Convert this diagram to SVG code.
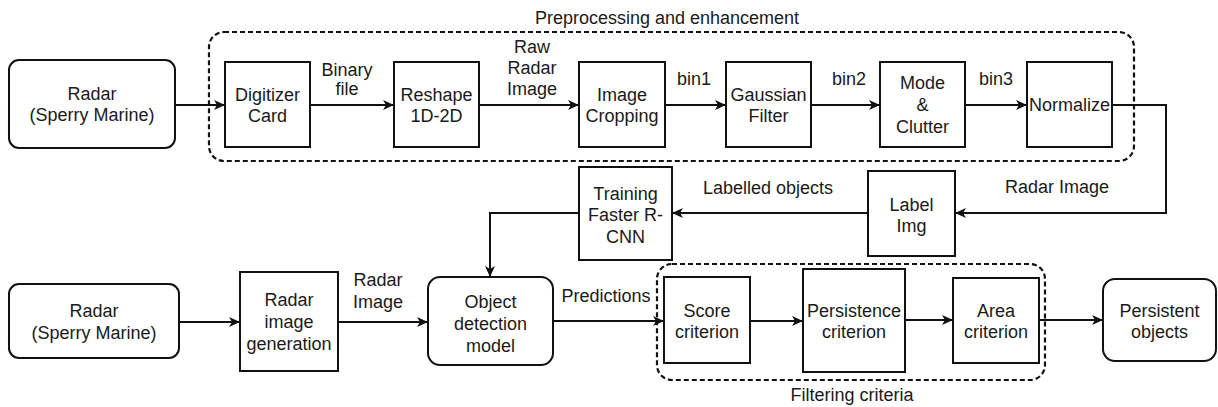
<svg xmlns="http://www.w3.org/2000/svg" width="1218" height="407" viewBox="0 0 1218 407">
<style>
  .box{fill:#fff;stroke:#111;stroke-width:2}
  .grp{fill:none;stroke:#111;stroke-width:2.2;stroke-dasharray:5 3}
  .ln{fill:none;stroke:#111;stroke-width:2}
  text{font-family:"Liberation Sans",Arial,sans-serif;font-size:18px;fill:#1a1a1a;text-anchor:middle}
</style>
<defs>
  <marker id="arr" markerUnits="userSpaceOnUse" markerWidth="12" markerHeight="12" viewBox="0 0 12 12" refX="11" refY="6" orient="auto">
    <path d="M0,1 L11,6 L0,11 L3,6 Z" fill="#111"/>
  </marker>
</defs>
<rect fill="#fff" x="0" y="0" width="1218" height="407"/>

<g id="group-preprocessing">
  <rect class="grp" x="209" y="32" width="925" height="129" rx="15"/>
  <text x="667" y="24">Preprocessing and enhancement</text>
</g>
<g id="group-filtering">
  <rect class="grp" x="657" y="264" width="388" height="116" rx="15"/>
  <text x="852" y="401">Filtering criteria</text>
</g>

<g id="connectors">
  <line class="ln" x1="175" y1="105" x2="225" y2="105" marker-end="url(#arr)"/>
  <line class="ln" x1="310" y1="105" x2="394" y2="105" marker-end="url(#arr)"/>
  <line class="ln" x1="479" y1="105" x2="579" y2="105" marker-end="url(#arr)"/>
  <line class="ln" x1="665" y1="105" x2="726" y2="105" marker-end="url(#arr)"/>
  <line class="ln" x1="811" y1="105" x2="880" y2="105" marker-end="url(#arr)"/>
  <line class="ln" x1="965" y1="105" x2="1027" y2="105" marker-end="url(#arr)"/>
  <polyline class="ln" points="1112,105 1166,105 1166,213 955,213" marker-end="url(#arr)"/>
  <line class="ln" x1="868" y1="213" x2="672" y2="213" marker-end="url(#arr)"/>
  <polyline class="ln" points="579,213 490,213 490,277" marker-end="url(#arr)"/>
  <line class="ln" x1="179" y1="322" x2="240" y2="322" marker-end="url(#arr)"/>
  <line class="ln" x1="338" y1="322" x2="428" y2="322" marker-end="url(#arr)"/>
  <line class="ln" x1="553" y1="321" x2="664" y2="321" marker-end="url(#arr)"/>
  <line class="ln" x1="750" y1="321" x2="803" y2="321" marker-end="url(#arr)"/>
  <line class="ln" x1="905" y1="320" x2="953" y2="320" marker-end="url(#arr)"/>
  <line class="ln" x1="1039" y1="320" x2="1103" y2="320" marker-end="url(#arr)"/>
  <text x="347" y="76">Binary</text>
  <text x="347" y="95">file</text>
  <text x="532" y="53">Raw</text>
  <text x="532" y="74">Radar</text>
  <text x="532" y="95">Image</text>
  <text x="694" y="85">bin1</text>
  <text x="849" y="85">bin2</text>
  <text x="996" y="85">bin3</text>
  <text x="1057" y="193">Radar Image</text>
  <text x="768" y="194">Labelled objects</text>
  <text x="378" y="286">Radar</text>
  <text x="378" y="308">Image</text>
  <text x="606" y="302">Predictions</text>
</g>

<g id="radar-top">
  <rect class="box" x="9" y="60" width="166" height="88" rx="10"/>
  <text x="92" y="100">Radar</text>
  <text x="92" y="121">(Sperry Marine)</text>
</g>
<g id="digitizer">
  <rect class="box" x="225" y="62" width="85" height="85"/>
  <text x="267.5" y="101">Digitizer</text>
  <text x="267.5" y="122">Card</text>
</g>
<g id="reshape">
  <rect class="box" x="394" y="62" width="85" height="85"/>
  <text x="436.5" y="101">Reshape</text>
  <text x="436.5" y="122">1D-2D</text>
</g>
<g id="cropping">
  <rect class="box" x="579" y="62" width="86" height="85"/>
  <text x="622" y="101">Image</text>
  <text x="622" y="122">Cropping</text>
</g>
<g id="gaussian">
  <rect class="box" x="726" y="62" width="85" height="85"/>
  <text x="768.5" y="101">Gaussian</text>
  <text x="768.5" y="122">Filter</text>
</g>
<g id="mode-clutter">
  <rect class="box" x="880" y="62" width="85" height="85"/>
  <text x="922.5" y="89">Mode</text>
  <text x="922.5" y="111">&amp;</text>
  <text x="922.5" y="133">Clutter</text>
</g>
<g id="normalize">
  <rect class="box" x="1027" y="62" width="85" height="85"/>
  <text x="1069.5" y="111">Normalize</text>
</g>
<g id="label-img">
  <rect class="box" x="868" y="171" width="87" height="85"/>
  <text x="911.5" y="211">Label</text>
  <text x="911.5" y="232">Img</text>
</g>
<g id="training">
  <rect class="box" x="579" y="167" width="93" height="93"/>
  <text x="625.5" y="200">Training</text>
  <text x="625.5" y="221">Faster R-</text>
  <text x="625.5" y="243">CNN</text>
</g>
<g id="radar-bottom">
  <rect class="box" x="9" y="284" width="170" height="74" rx="10"/>
  <text x="94" y="317">Radar</text>
  <text x="94" y="339">(Sperry Marine)</text>
</g>
<g id="radar-image-generation">
  <rect class="box" x="240" y="272" width="98" height="99"/>
  <text x="289" y="306">Radar</text>
  <text x="289" y="328">image</text>
  <text x="289" y="350">generation</text>
</g>
<g id="object-detection">
  <rect class="box" x="428" y="277" width="125" height="88" rx="12"/>
  <text x="490.5" y="308">Object</text>
  <text x="490.5" y="330">detection</text>
  <text x="490.5" y="352">model</text>
</g>
<g id="score">
  <rect class="box" x="664" y="277" width="86" height="86"/>
  <text x="707" y="317">Score</text>
  <text x="707" y="338">criterion</text>
</g>
<g id="persistence">
  <rect class="box" x="803" y="269" width="102" height="103"/>
  <text x="854" y="317">Persistence</text>
  <text x="854" y="338">criterion</text>
</g>
<g id="area">
  <rect class="box" x="953" y="278" width="86" height="85"/>
  <text x="996" y="317">Area</text>
  <text x="996" y="338">criterion</text>
</g>
<g id="persistent-objects">
  <rect class="box" x="1103" y="279" width="113" height="82" rx="12"/>
  <text x="1159.5" y="317">Persistent</text>
  <text x="1159.5" y="338">objects</text>
</g>
</svg>
